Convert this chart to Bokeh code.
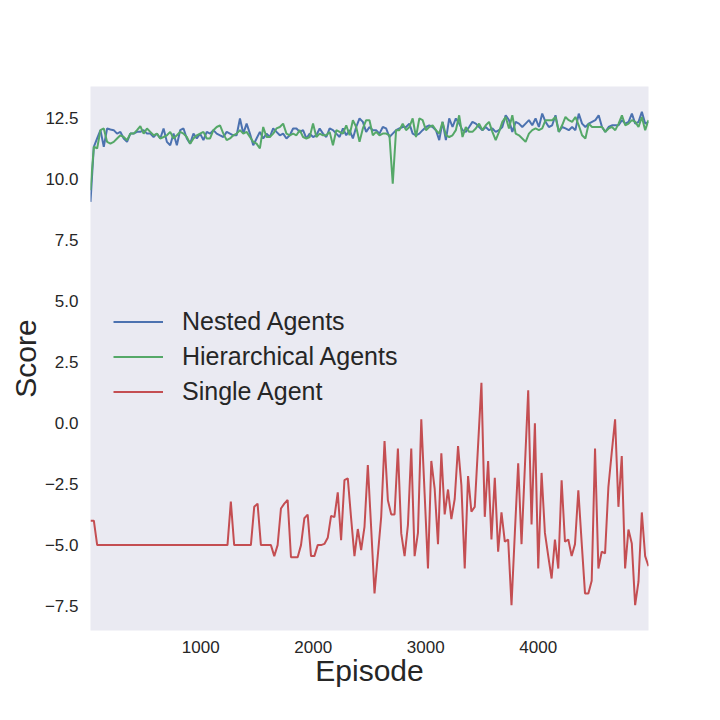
import numpy as np
from bokeh.plotting import figure
from bokeh.models import Range1d, FixedTicker, Legend, LegendItem
from bokeh.embed import file_html
from bokeh.resources import INLINE

# ---------------- data ----------------
episode_start = 20
episode_end = 4980

nested_agents = [
    9.07, 11.33, 11.67, 12.01, 11.33, 12.08, 12.04, 12.01, 11.87, 11.94,
    11.67, 11.53, 11.87, 11.87, 11.94, 11.94, 12.01, 11.87, 11.87, 11.73,
    11.87, 11.67, 12.08, 11.53, 11.39, 11.87, 11.39, 12.01, 12.08, 11.67,
    11.46, 11.87, 11.67, 11.87, 11.60, 11.94, 11.87, 12.01, 11.87, 11.80,
    11.73, 11.94, 11.87, 11.80, 11.80, 12.49, 11.87, 12.28, 11.87, 11.39,
    11.67, 11.94, 11.67, 11.87, 11.73, 12.08, 11.94, 11.80, 11.87, 11.67,
    11.80, 12.08, 12.08, 11.94, 12.01, 11.67, 11.87, 11.73, 11.80, 12.08,
    11.87, 11.73, 12.08, 12.01, 11.87, 11.73, 12.08, 11.80, 12.01, 11.67,
    12.14, 12.49, 12.35, 11.94, 12.14, 12.01,
    12.01, 11.87, 12.14, 12.08, 11.73, 11.87, 12.01, 12.08, 12.14, 12.14,
    12.28, 11.87, 11.80, 11.87, 12.01, 12.14, 12.21, 12.14, 12.01, 11.60,
    12.35, 11.60, 12.49, 12.14, 12.49, 12.28, 12.01, 11.94, 12.14, 12.35,
    12.28, 12.14, 12.01, 12.14, 12.01, 12.08, 11.94, 12.01, 12.14, 12.62,
    12.42, 11.94, 12.35, 12.28, 12.14, 12.28, 12.42, 12.21, 12.49, 12.14,
    12.69, 12.35, 12.14, 12.21, 12.62, 11.94, 12.14, 12.08, 12.01, 12.14,
    12.01, 12.69, 12.28, 12.14, 12.28, 12.35, 12.42, 12.62, 12.14, 11.94,
    12.14, 12.21, 12.21, 12.21, 12.42, 12.28, 12.35, 12.69, 12.28, 12.35,
    12.76, 12.28, 12.35,
]

hierarchical_agents = [
    9.55, 11.33, 11.26, 12.01, 12.08, 11.53, 11.46, 11.53, 11.67, 11.80,
    11.73, 11.60, 11.87, 11.87, 12.01, 12.17, 11.87, 12.08, 11.94, 11.80,
    11.87, 11.67, 11.73, 11.80, 11.94, 11.67, 11.80, 11.94, 11.87, 11.73,
    11.46, 11.67, 11.80, 11.87, 11.94, 11.67, 11.67, 12.01, 12.14, 12.21,
    11.87, 11.60, 11.67, 11.80, 11.87, 12.01, 11.87, 11.94, 11.73, 11.53,
    11.46, 11.26, 12.14, 11.73, 11.73, 11.87, 12.08, 12.14, 12.28, 11.87,
    11.80, 11.87, 11.80, 12.01, 11.73, 11.67, 11.73, 12.28, 11.73, 11.87,
    11.80, 11.80, 11.94, 11.39, 12.01, 11.94, 11.87, 12.21, 11.80, 12.42,
    12.14, 11.53, 12.08, 12.42, 12.42, 11.80,
    11.94, 11.80, 11.87, 11.87, 11.80, 9.82, 12.01, 12.01, 12.28, 12.01,
    12.14, 12.49, 11.73, 12.49, 12.42, 12.01, 12.14, 12.21, 12.01, 11.87,
    12.35, 11.80, 11.73, 11.80, 12.01, 12.62, 11.73, 12.14, 11.94, 11.94,
    12.08, 12.28, 12.01, 12.21, 12.35, 11.94, 11.60, 11.94, 12.35, 12.55,
    12.08, 12.62, 11.87, 11.80, 11.67, 11.53, 11.87, 12.01, 12.08, 12.01,
    12.08, 12.42, 12.42, 12.42, 12.55, 11.94, 12.21, 12.55, 12.42, 12.35,
    12.55, 12.21, 11.80, 11.67, 12.28, 12.14, 12.14, 12.14, 12.14, 11.94,
    12.08, 12.14, 12.01, 12.28, 12.62, 12.21, 12.28, 12.42, 12.35, 12.14,
    12.55, 12.01, 12.42,
]

single_agent = [
    -4.0, -4.0, -5.0, -5.0, -5.0, -5.0, -5.0, -5.0, -5.0, -5.0,
    -5.0, -5.0, -5.0, -5.0, -5.0, -5.0, -5.0, -5.0, -5.0, -5.0,
    -5.0, -5.0, -5.0, -5.0, -5.0, -5.0, -5.0, -5.0, -5.0, -5.0,
    -5.0, -5.0, -5.0, -5.0, -5.0, -5.0, -5.0, -5.0, -5.0, -5.0,
    -5.0, -5.0, -3.22, -5.0, -5.0, -5.0, -5.0, -5.0, -5.0, -3.43,
    -3.3, -5.0, -5.0, -5.0, -5.0, -5.45, -5.0, -3.5, -3.3, -3.15,
    -5.5, -5.5, -5.5, -5.0, -3.9, -3.75, -5.45, -5.45, -5.0, -5.0,
    -4.95, -4.7, -3.8, -3.85, -2.84, -4.8, -2.34, -2.26, -3.9, -5.45,
    -4.34, -5.2, -4.25, -1.72, -4.3, -6.98, -5.4, -3.84, -0.73, -3.16,
    -3.74, -3.74, -1.04, -4.52, -5.45, -4.18, -1.04, -5.45, -4.5, 0.16,
    -2.9, -5.96, -1.55, -2.68, -4.96, -1.24, -3.74, -2.72, -3.93, -3.11,
    -0.94, -2.54, -5.96, -2.17, -3.63, -3.43, -0.9, 1.65, -3.84, -1.55,
    -4.77, -2.24, -5.27, -3.66, -4.86, -4.77, -7.46, -4.5, -1.65, -4.96,
    -1.8, 1.35, -4.15, -0.01, -5.96, -2.04, -4.5, -5.45, -6.37, -4.77,
    -5.96, -2.34, -4.86, -4.77, -5.45, -4.96, -2.75, -4.9, -6.98, -6.98,
    -6.46, -1.04, -5.96, -5.27, -5.34, -2.61, -1.2, 0.16, -3.43, -1.35,
    -5.96, -4.36, -4.93, -7.46, -6.5, -3.66, -5.45, -5.86,
]

series_names = ["Nested Agents", "Hierarchical Agents", "Single Agent"]
series_colors = ["#4C72B0", "#55A868", "#C44E52"]
y_ticks = [-7.5, -5.0, -2.5, 0.0, 2.5, 5.0, 7.5, 10.0, 12.5]
x_ticks = [1000, 2000, 3000, 4000]

# ---------------- figure ----------------
FONT = "Liberation Sans"
TXT = "#262626"

p = figure(width=704, height=704, output_backend="svg", toolbar_location=None,
           x_range=Range1d(episode_start, episode_end), y_range=Range1d(-8.5, 13.8),
           min_border_left=90, min_border_right=56, min_border_top=86, min_border_bottom=74)
p.background_fill_color = "#EAEAF2"
p.border_fill_color = "white"
p.outline_line_color = None
p.grid.visible = False

renderers = []
for vals, name, col in zip([nested_agents, hierarchical_agents, single_agent], series_names, series_colors):
    xs = np.linspace(episode_start, episode_end, len(vals))
    r = p.line(xs, vals, line_color=col, line_width=2)
    renderers.append((name, r))

for ax in (p.xaxis[0], p.yaxis[0]):
    ax.axis_line_color = None
    ax.major_tick_line_color = None
    ax.minor_tick_line_color = None
    ax.major_label_text_font = FONT
    ax.major_label_text_font_size = "17px"
    ax.major_label_text_color = TXT
    ax.axis_label_text_font = FONT
    ax.axis_label_text_font_size = "30px"
    ax.axis_label_text_color = TXT
    ax.axis_label_text_font_style = "normal"

p.xaxis.ticker = FixedTicker(ticks=x_ticks)
p.yaxis.ticker = FixedTicker(ticks=y_ticks)
p.yaxis.major_label_overrides = {t: ("%.1f" % t).replace("-", "\u2212") for t in y_ticks}
p.xaxis.axis_label = "Episode"
p.yaxis.axis_label = "Score"
p.xaxis.major_label_standoff = 4
p.yaxis.major_label_standoff = 6
p.xaxis.axis_label_standoff = -2
p.yaxis.axis_label_standoff = 0

legend = Legend(items=[LegendItem(label=n, renderers=[r]) for n, r in renderers],
                location=(23, 221), orientation="vertical")
legend.background_fill_alpha = 0
legend.border_line_color = None
legend.padding = 0
legend.margin = 0
legend.spacing = 0
legend.glyph_width = 50
legend.glyph_height = 35
legend.label_height = 35
legend.label_standoff = 19
legend.label_text_font = FONT
legend.label_text_font_size = "25px"
legend.label_text_color = TXT
p.add_layout(legend)

open("out.html", "w").write(file_html(p, INLINE))
